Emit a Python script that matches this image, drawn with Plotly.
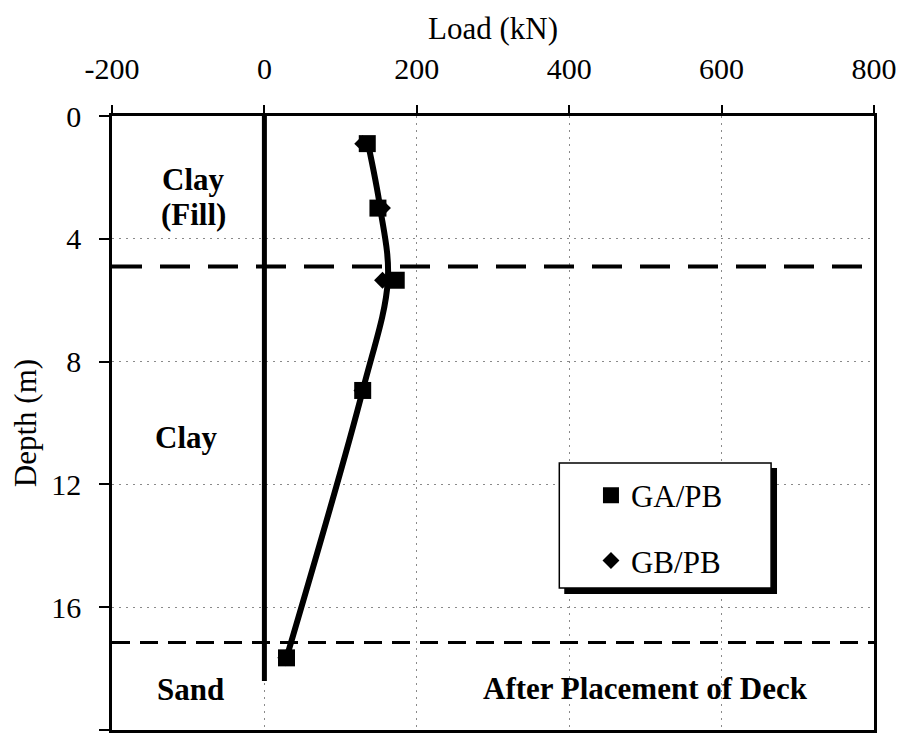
import plotly.graph_objects as go

# Measured pile loads (kN) versus depth (m)
depth_pts = [0.9, 3.0, 5.35, 8.94, 17.65]
load_ga_pb = [135, 149, 173, 129, 29]
load_gb_pb = [129, 155, 155, 128, 28]

# Smoothed load distribution drawn through the gauges
trend_depth = [0.9, 3.0, 5.35, 8.94, 17.65]
trend_load = [136, 152, 162, 129, 29]

# Pile reference line (zero load)
pile_depth = [0, 18.4]
pile_load = [0, 0]

# Soil layer boundaries (m)
layer_bounds = [4.9, 17.15]

x_ticks = [-200, 0, 200, 400, 600, 800]
x_tick_text = ["-200", "0", "200", "400", "600", "800"]
y_ticks = [0, 4, 8, 12, 16, 20]

FONT = "Liberation Serif, Times New Roman, serif"

fig = go.Figure()

fig.add_trace(go.Scatter(x=pile_load, y=pile_depth, mode="lines",
                         line=dict(color="black", width=5),
                         showlegend=False, hoverinfo="skip"))
fig.add_trace(go.Scatter(x=trend_load, y=trend_depth, mode="lines",
                         line=dict(color="black", width=6, shape="spline", smoothing=1.0),
                         showlegend=False, hoverinfo="skip"))
fig.add_trace(go.Scatter(x=load_gb_pb, y=depth_pts, mode="markers", name="GB/PB",
                         marker=dict(symbol="diamond", size=13, color="black"),
                         legendrank=2, legendgroup="b"))
fig.add_trace(go.Scatter(x=load_ga_pb, y=depth_pts, mode="markers", name="GA/PB",
                         marker=dict(symbol="square", size=17, color="black"),
                         legendrank=1, legendgroup="a"))

# Layer boundaries
fig.add_shape(type="line", xref="x", yref="y", x0=-200, x1=800,
              y0=layer_bounds[0], y1=layer_bounds[0],
              line=dict(color="black", width=4, dash="30px,18px"))
fig.add_shape(type="line", xref="x", yref="y", x0=-200, x1=800,
              y0=layer_bounds[1], y1=layer_bounds[1],
              line=dict(color="black", width=3, dash="18px,10px"))

# Legend frame with drop shadow
PL, PR, PT, PB = 112, 882, 116, 730
def px_x(v):
    return (v - PL) / (PR - PL)
def px_y(v):
    return (PB - v) / (PB - PT)

fig.add_shape(type="rect", xref="paper", yref="paper", layer="above",
              x0=px_x(569), x1=px_x(784), y0=px_y(594), y1=px_y(468),
              fillcolor="black", line=dict(width=0))
fig.add_shape(type="rect", xref="paper", yref="paper", layer="above",
              x0=px_x(564), x1=px_x(778), y0=px_y(588), y1=px_y(463),
              fillcolor="white", line=dict(color="black", width=1.5))

# Soil labels
labels = [
    ("Clay", 194, 179),
    ("(Fill)", 194, 215),
    ("Clay", 187, 437),
    ("Sand", 191, 689),
    ("After Placement of Deck", 651, 688),
]
for txt, lx, ly in labels:
    fig.add_annotation(text="<b>%s</b>" % txt, xref="paper", yref="paper",
                       x=px_x(lx), y=px_y(ly), xanchor="center", yanchor="middle",
                       showarrow=False, font=dict(family=FONT, size=31, color="black"))

grid = dict(showgrid=True, gridcolor="#8a8a8a", gridwidth=1, griddash="2px,5px",
            zeroline=False, showline=True, linecolor="black", linewidth=2.5,
            mirror=True, ticks="outside", tickcolor="black", tickwidth=1.5,
            tickfont=dict(family=FONT, size=30, color="black"))

fig.update_xaxes(range=[-200, 800], tickvals=x_ticks, ticktext=x_tick_text,
                 side="top", ticklen=8, ticklabelstandoff=14,
                 title=dict(text="Load (kN)", font=dict(family=FONT, size=31, color="black"),
                            standoff=4),
                 **grid)
fig.update_yaxes(range=[20, 0], tickvals=y_ticks, ticklen=10, ticklabelstandoff=12,
                 title=dict(text="Depth (m)", font=dict(family=FONT, size=31, color="black"),
                            standoff=6),
                 **grid)

fig.update_layout(
    width=909, height=745,
    margin=dict(l=PL, r=909 - PR, t=PT, b=745 - PB),
    plot_bgcolor="white", paper_bgcolor="white",
    font=dict(family=FONT, color="black"),
    legend=dict(x=px_x(596), y=px_y(528), xanchor="left", yanchor="middle",
                bgcolor="rgba(0,0,0,0)", borderwidth=0, tracegroupgap=22,
                font=dict(family=FONT, size=31, color="black"),
                traceorder="grouped"),
)

fig.write_html("out.html")
